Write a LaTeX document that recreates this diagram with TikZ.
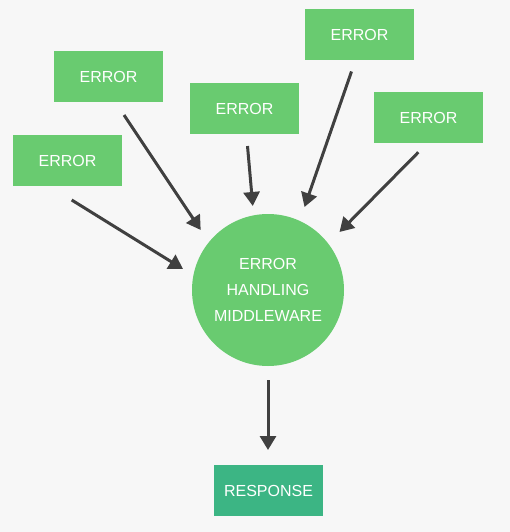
\documentclass[tikz,border=0pt]{standalone}
\usepackage{fontspec}
\setmainfont{Liberation Sans}
\usetikzlibrary{arrows.meta}
\definecolor{bg}{HTML}{F7F7F7}
\definecolor{boxgreen}{HTML}{69CB70}
\definecolor{respgreen}{HTML}{3CB584}
\definecolor{arrowgray}{HTML}{404040}
\tikzset{
  errbox/.style={fill=boxgreen, minimum width=109pt, minimum height=51pt, inner sep=0pt, text=white, font=\fontsize{16pt}{26pt}\selectfont},
  respbox/.style={fill=respgreen, minimum width=109pt, minimum height=51pt, inner sep=0pt, text=white, font=\fontsize{16pt}{26pt}\selectfont},
  mwcircle/.style={circle, fill=boxgreen, minimum size=152pt, inner sep=0pt, text=white, align=center, font=\fontsize{16pt}{26pt}\selectfont},
  conn/.style={draw=arrowgray, line width=3pt, -{Triangle[width=16pt,length=14pt]}}
}
\begin{document}
\begin{tikzpicture}[x=1pt,y=-1pt]
\fill[bg] (0,0) rectangle (510,532);
\useasboundingbox (0,0) rectangle (510,532);
\node[errbox] (e1) at (108.5,76.5) {ERROR};
\node[errbox] (e2) at (67.5,160.5) {ERROR};
\node[errbox] (e3) at (244.5,108.5) {ERROR};
\node[errbox] (e4) at (359.5,34.5) {ERROR};
\node[errbox] (e5) at (428.5,117.5) {ERROR};
\node[mwcircle] (mw) at (268,290) {ERROR\\HANDLING\\MIDDLEWARE};
\node[respbox] (resp) at (268.5,490.5) {RESPONSE};
\coordinate (s1) at (124,115);
\coordinate (t1) at (200.7,230);
\coordinate (s2) at (71.7,200);
\coordinate (t2) at (183,269);
\coordinate (s3) at (247.5,146);
\coordinate (t3) at (252.8,206);
\coordinate (s4) at (351.5,71.5);
\coordinate (t4) at (304.5,207);
\coordinate (s5) at (418.3,152.3);
\coordinate (t5) at (339.5,232);
\coordinate (s6) at (268,380);
\coordinate (t6) at (268,450);
\draw[conn] (s1) -- (t1);
\draw[conn] (s2) -- (t2);
\draw[conn] (s3) -- (t3);
\draw[conn] (s4) -- (t4);
\draw[conn] (s5) -- (t5);
\draw[conn] (s6) -- (t6);
\end{tikzpicture}
\end{document}
